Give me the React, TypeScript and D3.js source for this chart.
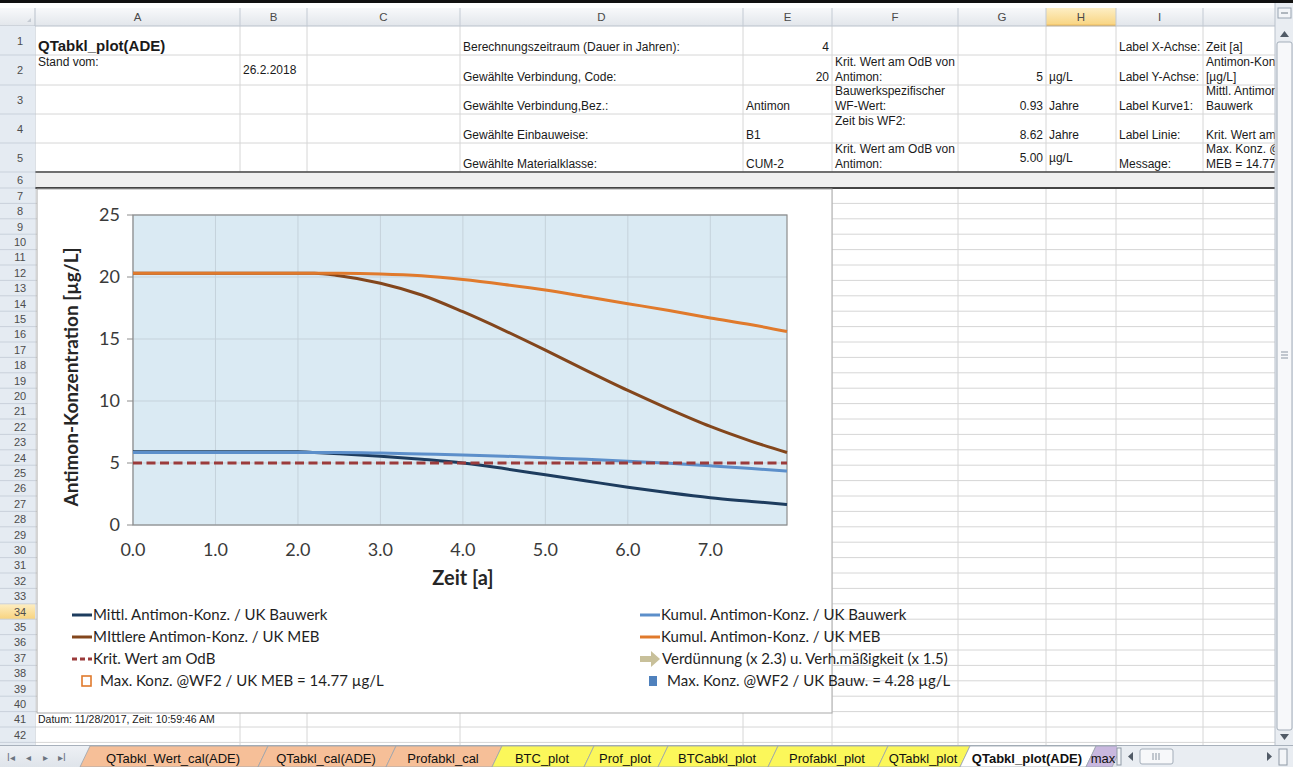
import React from 'react';
import * as d3 from 'd3';

const W = 1293;
const H = 767;

// ---- chart data ----
const years = [0, 0.5, 1, 1.5, 2, 2.2, 2.5, 3, 3.5, 4, 4.5, 5, 5.5, 6, 6.5, 7, 7.5, 7.93];
const mittlBauwerk = [5.9, 5.9, 5.9, 5.9, 5.9, 5.85, 5.75, 5.55, 5.3, 5.0, 4.55, 4.05, 3.55, 3.05, 2.6, 2.2, 1.9, 1.65];
const kumulBauwerk = [5.85, 5.85, 5.85, 5.85, 5.85, 5.85, 5.85, 5.8, 5.72, 5.65, 5.55, 5.42, 5.3, 5.15, 4.98, 4.77, 4.55, 4.35];
const mittlMEB = [20.3, 20.3, 20.3, 20.3, 20.3, 20.3, 20.1, 19.5, 18.55, 17.2, 15.7, 14.1, 12.45, 10.85, 9.35, 7.95, 6.75, 5.85];
const kumulMEB = [20.3, 20.3, 20.3, 20.3, 20.3, 20.3, 20.3, 20.25, 20.1, 19.8, 19.4, 18.95, 18.4, 17.85, 17.3, 16.7, 16.15, 15.6];
const kritWert = 5;
const xMax = 7.93;
const xTicks = [0, 1, 2, 3, 4, 5, 6, 7];
const yTicks = [0, 5, 10, 15, 20, 25];

const seriesNames = [
  'Mittl. Antimon-Konz. / UK Bauwerk',
  'Kumul. Antimon-Konz. / UK Bauwerk',
  'MIttlere Antimon-Konz. / UK MEB',
  'Kumul. Antimon-Konz. / UK MEB',
];
const seriesColors = ['#1d3c5e', '#5c8fca', '#83461c', '#e07a2c'];
const seriesValues = [mittlBauwerk, kumulBauwerk, mittlMEB, kumulMEB];
const kritLabel = 'Krit. Wert am OdB';
const arrowLabel = 'Verdünnung (x 2.3) u. Verh.mäßigkeit (x 1.5)';
const maxMEBLabel = 'Max. Konz. @WF2 / UK MEB = 14.77 µg/L';
const maxBauLabel = 'Max. Konz. @WF2 / UK Bauw. = 4.28 µg/L';

// ---- sheet layout ----
const colNames = ['A', 'B', 'C', 'D', 'E', 'F', 'G', 'H', 'I', 'J'];
const colEdges = [35, 240, 307, 460, 743, 832, 958, 1046, 1116, 1203, 1330];
const topRowEdges = [26, 55, 85, 114, 143, 172, 188];
const ROW_H = 15.4;
const rowTop = (r: number) => (r <= 7 ? topRowEdges[r - 1] : 188 + (r - 7) * ROW_H);
const rowBottom = (r: number) => (r < 7 ? topRowEdges[r] : 188 + (r - 6) * ROW_H);

type Cell = { c: string; r: number; t: string[]; align?: 'left' | 'right'; v?: 'top' | 'bottom' | 'middle'; bold?: boolean; size?: number };
const cells: Cell[] = [
  { c: 'A', r: 1, t: ['QTabkl_plot(ADE)'], bold: true, size: 15 },
  { c: 'A', r: 2, t: ['Stand vom:'], v: 'top' },
  { c: 'B', r: 2, t: ['26.2.2018'], v: 'middle' },
  { c: 'D', r: 1, t: ['Berechnungszeitraum (Dauer in Jahren):'] },
  { c: 'E', r: 1, t: ['4'], align: 'right' },
  { c: 'I', r: 1, t: ['Label X-Achse:'] },
  { c: 'J', r: 1, t: ['Zeit [a]'] },
  { c: 'D', r: 2, t: ['Gewählte Verbindung, Code:'] },
  { c: 'E', r: 2, t: ['20'], align: 'right' },
  { c: 'F', r: 2, t: ['Krit. Wert am OdB von', 'Antimon:'] },
  { c: 'G', r: 2, t: ['5'], align: 'right' },
  { c: 'H', r: 2, t: ['µg/L'] },
  { c: 'I', r: 2, t: ['Label Y-Achse:'] },
  { c: 'J', r: 2, t: ['Antimon-Konz', '[µg/L]'] },
  { c: 'D', r: 3, t: ['Gewählte Verbindung,Bez.:'] },
  { c: 'E', r: 3, t: ['Antimon'] },
  { c: 'F', r: 3, t: ['Bauwerkspezifischer', 'WF-Wert:'] },
  { c: 'G', r: 3, t: ['0.93'], align: 'right' },
  { c: 'H', r: 3, t: ['Jahre'] },
  { c: 'I', r: 3, t: ['Label Kurve1:'] },
  { c: 'J', r: 3, t: ['Mittl. Antimon-', 'Bauwerk'] },
  { c: 'D', r: 4, t: ['Gewählte Einbauweise:'] },
  { c: 'E', r: 4, t: ['B1'] },
  { c: 'F', r: 4, t: ['Zeit bis WF2:'], v: 'top' },
  { c: 'G', r: 4, t: ['8.62'], align: 'right' },
  { c: 'H', r: 4, t: ['Jahre'] },
  { c: 'I', r: 4, t: ['Label Linie:'] },
  { c: 'J', r: 4, t: ['Krit. Wert am'] },
  { c: 'D', r: 5, t: ['Gewählte Materialklasse:'] },
  { c: 'E', r: 5, t: ['CUM-2'] },
  { c: 'F', r: 5, t: ['Krit. Wert am OdB von', 'Antimon:'] },
  { c: 'G', r: 5, t: ['5.00'], align: 'right', v: 'middle' },
  { c: 'H', r: 5, t: ['µg/L'], v: 'middle' },
  { c: 'I', r: 5, t: ['Message:'] },
  { c: 'J', r: 5, t: ['Max. Konz. @', 'MEB = 14.77'] },
  { c: 'A', r: 41, t: ['Datum: 11/28/2017, Zeit: 10:59:46 AM'], size: 10.5 },
];

const tabNames = ['QTabkl_Wert_cal(ADE)', 'QTabkl_cal(ADE)', 'Profabkl_cal', 'BTC_plot', 'Prof_plot', 'BTCabkl_plot', 'Profabkl_plot', 'QTabkl_plot', 'QTabkl_plot(ADE)', 'max'];
const tabColors = ['#f6bf98', '#f6bf98', '#f6bf98', '#fbf75a', '#fbf75a', '#fbf75a', '#fbf75a', '#fbf75a', '#ffffff', '#c9b8df'];
const tabEdges = [80, 258, 386, 492, 584, 658, 768, 878, 960, 1086, 1112];

const SHEET_FONT = '"Liberation Sans", Arial, sans-serif';
const CHART_FONT = 'Lato, "Open Sans", sans-serif';

function CellText({ cell }: { cell: Cell }) {
  const ci = colNames.indexOf(cell.c);
  const x0 = colEdges[ci];
  const x1 = colEdges[ci + 1];
  const top = rowTop(cell.r);
  const bot = rowBottom(cell.r);
  const lh = 15;
  const n = cell.t.length;
  const v = cell.v || 'bottom';
  let first = bot - 4 - (n - 1) * lh;
  if (v === 'top') first = top + 11;
  if (v === 'middle') first = (top + bot) / 2 + 4 - ((n - 1) * lh) / 2;
  const right = cell.align === 'right';
  return (
    <text
      x={right ? x1 - 3 : x0 + 3}
      y={first}
      textAnchor={right ? 'end' : 'start'}
      fontFamily={SHEET_FONT}
      fontSize={cell.size || 12}
      fontWeight={cell.bold ? 'bold' : 'normal'}
      fill="#1a1a1a"
    >
      {cell.t.map((s, i) => (
        <tspan key={i} x={right ? x1 - 3 : x0 + 3} dy={i === 0 ? 0 : lh}>{s}</tspan>
      ))}
    </text>
  );
}

export default function App() {
  const x = d3.scaleLinear().domain([0, xMax]).range([133, 787]);
  const y = d3.scaleLinear().domain([0, 25]).range([525, 215]);
  const line = d3.line<number>().x((_, i) => x(years[i])).y(d => y(d)).curve(d3.curveMonotoneX);

  const rows: number[] = d3.range(1, 43);
  const gridCol = '#d6d6d6';

  // legend geometry
  const legRows = [615, 637, 659, 681];
  const legC1 = 72;
  const legC2 = 640;

  return (
    <svg width={W} height={H} style={{ position: 'absolute', left: 0, top: 0, background: '#fff' }}>
      <defs>
        <linearGradient id="colHdr" x1="0" y1="0" x2="0" y2="1">
          <stop offset="0" stopColor="#f8f9fb" />
          <stop offset="1" stopColor="#e2e6eb" />
        </linearGradient>
        <linearGradient id="hiHdr" x1="0" y1="0" x2="0" y2="1">
          <stop offset="0" stopColor="#fdeec4" />
          <stop offset="1" stopColor="#f8d37e" />
        </linearGradient>
        <linearGradient id="tabBar" x1="0" y1="0" x2="0" y2="1">
          <stop offset="0" stopColor="#eef1f5" />
          <stop offset="1" stopColor="#dfe4ea" />
        </linearGradient>
        <clipPath id="sheetClip">
          <rect x={0} y={0} width={1275} height={H} />
        </clipPath>
      </defs>

      {/* ribbon edge */}
      <rect x={0} y={0} width={W} height={3} fill="#111" />

      <g clipPath="url(#sheetClip)">
        {/* cell grid */}
        {rows.map(r => (
          <line key={'h' + r} x1={35} x2={1275} y1={rowBottom(r)} y2={rowBottom(r)} stroke={gridCol} strokeWidth={1} />
        ))}
        {colEdges.slice(1).map((cx, i) => (
          <line key={'v' + i} x1={cx} x2={cx} y1={26} y2={745} stroke={gridCol} strokeWidth={1} />
        ))}
        {/* row 6 band */}
        <rect x={35} y={172} width={1240} height={16} fill="#efefef" />
        <line x1={35} x2={1275} y1={172} y2={172} stroke="#444" strokeWidth={1.6} />
        <line x1={35} x2={1275} y1={188} y2={188} stroke="#444" strokeWidth={2} />

        {/* column headers */}
        <rect x={0} y={8} width={1275} height={18} fill="url(#colHdr)" />
        <rect x={colEdges[7]} y={8} width={colEdges[8] - colEdges[7]} height={18} fill="url(#hiHdr)" />
        <line x1={colEdges[7]} x2={colEdges[8]} y1={25.5} y2={25.5} stroke="#e6a93c" strokeWidth={1.5} />
        <line x1={0} x2={1275} y1={26} y2={26} stroke="#b9c1cb" />
        <line x1={35} x2={35} y1={8} y2={745} stroke="#b9c1cb" />
        {colEdges.slice(0, -1).map((cx, i) => (
          <g key={'ch' + i}>
            <line x1={colEdges[i + 1]} x2={colEdges[i + 1]} y1={8} y2={26} stroke="#c3cad3" />
            <text x={(cx + colEdges[i + 1]) / 2} y={21} textAnchor="middle" fontFamily={SHEET_FONT} fontSize={11.5} fill="#4a4a4a">
              {i < 9 ? colNames[i] : ''}
            </text>
          </g>
        ))}
        <path d="M27,22 L31,18 L31,22 Z" fill="#c5cbd3" />

        {/* row headers */}
        <rect x={0} y={26} width={35} height={720} fill="#e5ebf2" />
        <rect x={0} y={rowTop(34)} width={35} height={ROW_H} fill="url(#hiHdr)" />
        {rows.map(r => (
          <g key={'rh' + r}>
            <line x1={0} x2={35} y1={rowBottom(r)} y2={rowBottom(r)} stroke="#c9d1db" />
            <text x={20} y={(rowTop(r) + rowBottom(r)) / 2 + 4} textAnchor="middle" fontFamily={SHEET_FONT} fontSize={11} fill="#4d4d4d">
              {r}
            </text>
          </g>
        ))}

        {/* cell texts */}
        {cells.map((c, i) => <CellText key={i} cell={c} />)}
      </g>

      {/* chart object */}
      <rect x={37} y={189} width={795} height={524} fill="#fff" stroke="#a9a9a9" strokeWidth={1} />

      {/* plot area */}
      <rect x={x(0)} y={y(25)} width={x(xMax) - x(0)} height={y(0) - y(25)} fill="#daeaf3" />
      {yTicks.map(t => (
        <line key={'gy' + t} x1={x(0)} x2={x(xMax)} y1={y(t)} y2={y(t)} stroke="#c5d2db" strokeWidth={1} />
      ))}
      {xTicks.map(t => (
        <line key={'gx' + t} x1={x(t)} x2={x(t)} y1={y(25)} y2={y(0)} stroke="#c5d2db" strokeWidth={1} />
      ))}
      <rect x={x(0)} y={y(25)} width={x(xMax) - x(0)} height={y(0) - y(25)} fill="none" stroke="#8c8c8c" strokeWidth={1.2} />
      {yTicks.map(t => (
        <line key={'ty' + t} x1={x(0) - 6} x2={x(0)} y1={y(t)} y2={y(t)} stroke="#8c8c8c" />
      ))}

      {/* series */}
      {seriesValues.map((vals, i) => (
        <path key={'s' + i} d={line(vals) || ''} fill="none" stroke={seriesColors[i]} strokeWidth={3} strokeLinejoin="round" />
      ))}
      <line x1={x(0)} x2={x(xMax)} y1={y(kritWert)} y2={y(kritWert)} stroke="#9b3b3b" strokeWidth={3} strokeDasharray="9,4.5" />

      {/* axis labels */}
      {yTicks.map(t => (
        <text key={'ly' + t} x={x(0) - 13} y={y(t) + 6} textAnchor="end" fontFamily={CHART_FONT} fontSize={18} fill="#3a3a3a">
          {t}
        </text>
      ))}
      {xTicks.map(t => (
        <text key={'lx' + t} x={x(t)} y={556} textAnchor="middle" fontFamily={CHART_FONT} fontSize={18} fill="#3a3a3a">
          {d3.format('.1f')(t)}
        </text>
      ))}
      <text x={463} y={585} textAnchor="middle" fontFamily={CHART_FONT} fontSize={20} fontWeight="bold" fill="#262626">
        Zeit [a]
      </text>
      <text transform="translate(78,377) rotate(-90)" textAnchor="middle" fontFamily={CHART_FONT} fontSize={19} fontWeight="bold" fill="#262626">
        Antimon-Konzentration [µg/L]
      </text>

      {/* legend */}
      <g fontFamily={CHART_FONT} fontSize={15} fill="#1f1f1f">
        {[0, 2].map((si, k) => (
          <g key={'l1' + si}>
            <line x1={legC1} x2={legC1 + 20} y1={legRows[k]} y2={legRows[k]} stroke={seriesColors[si]} strokeWidth={3} />
            <text x={legC1 + 21} y={legRows[k] + 5}>{seriesNames[si]}</text>
          </g>
        ))}
        {[1, 3].map((si, k) => (
          <g key={'l2' + si}>
            <line x1={legC2} x2={legC2 + 20} y1={legRows[k]} y2={legRows[k]} stroke={seriesColors[si]} strokeWidth={3} />
            <text x={legC2 + 21} y={legRows[k] + 5}>{seriesNames[si]}</text>
          </g>
        ))}
        <line x1={legC1} x2={legC1 + 20} y1={legRows[2]} y2={legRows[2]} stroke="#9b3b3b" strokeWidth={3} strokeDasharray="5,3" />
        <text x={legC1 + 21} y={legRows[2] + 5}>{kritLabel}</text>
        <path
          d={`M${legC2},${legRows[2] - 3} L${legC2 + 11},${legRows[2] - 3} L${legC2 + 11},${legRows[2] - 8} L${legC2 + 20},${legRows[2]} L${legC2 + 11},${legRows[2] + 8} L${legC2 + 11},${legRows[2] + 3} L${legC2},${legRows[2] + 3} Z`}
          fill="#c8c09a"
        />
        <text x={legC2 + 22} y={legRows[2] + 5}>{arrowLabel}</text>
        <rect x={legC1 + 10} y={legRows[3] - 5} width={9} height={10} fill="#fff" stroke="#e07a2c" strokeWidth={1.6} />
        <text x={legC1 + 28} y={legRows[3] + 5}>{maxMEBLabel}</text>
        <rect x={legC2 + 9} y={legRows[3] - 5} width={8} height={10} fill="#4f81bd" />
        <text x={legC2 + 27} y={legRows[3] + 5}>{maxBauLabel}</text>
      </g>

      {/* vertical scrollbar */}
      <rect x={1275} y={3} width={18} height={742} fill="#e9edf2" />
      <line x1={1275} x2={1275} y1={3} y2={745} stroke="#b9c1cb" />
      <rect x={1278} y={8} width={13} height={10} fill="#f3f5f8" stroke="#9aa5b2" />
      <line x1={1281} x2={1288} y1={13} y2={13} stroke="#6d7884" />
      <path d="M1280,37 L1284.5,31 L1289,37 Z" fill="#505a66" />
      <rect x={1277} y={42} width={15} height={688} rx={2} fill="#f7f8fa" stroke="#a3adb9" />
      <g stroke="#8a95a2">
        <line x1={1281} x2={1288} y1={352} y2={352} />
        <line x1={1281} x2={1288} y1={355} y2={355} />
        <line x1={1281} x2={1288} y1={358} y2={358} />
      </g>
      <path d="M1280,734 L1289,734 L1284.5,740 Z" fill="#505a66" />

      {/* sheet tab bar */}
      <rect x={0} y={745} width={W} height={22} fill="url(#tabBar)" />
      <line x1={0} x2={W} y1={745.5} y2={745.5} stroke="#a8b1bc" />
      <g fill="#6b7480" fontFamily={SHEET_FONT} fontSize={10}>
        <text x={7} y={761}>I◂</text>
        <text x={26} y={761}>◂</text>
        <text x={43} y={761}>▸</text>
        <text x={58} y={761}>▸I</text>
      </g>
      {tabNames.map((name, i) => {
        const x0 = tabEdges[i];
        const x1 = tabEdges[i + 1];
        const active = i === 8;
        return (
          <g key={'tab' + i}>
            <path d={`M${x0},767 L${x0 + 10},746 L${x1 + 10},746 L${x1},767 Z`} fill={tabColors[i]} stroke="#9aa3ad" strokeWidth={0.8} />
            <text
              x={(x0 + x1) / 2 + 4}
              y={763}
              textAnchor="middle"
              fontFamily={SHEET_FONT}
              fontSize={13}
              fontWeight={active ? 'bold' : 'normal'}
              fill="#111"
            >
              {name}
            </text>
          </g>
        );
      })}
      {/* horizontal scrollbar */}
      <rect x={1117} y={746} width={176} height={21} fill="#e9edf2" />
      <rect x={1117} y={748} width={4} height={17} fill="#f3f5f8" stroke="#8f9aa6" />
      <path d="M1128,756.5 L1133,752 L1133,761 Z" fill="#505a66" />
      <rect x={1140} y={749} width={33} height={15} rx={2} fill="#f7f8fa" stroke="#a3adb9" />
      <g stroke="#8a95a2">
        <line x1={1153} x2={1153} y1={753} y2={760} />
        <line x1={1156} x2={1156} y1={753} y2={760} />
        <line x1={1159} x2={1159} y1={753} y2={760} />
      </g>
      <path d="M1267,752 L1272,756.5 L1267,761 Z" fill="#505a66" />
      <rect x={1279} y={749} width={8} height={16} fill="#f3f5f8" stroke="#8f9aa6" />
    </svg>
  );
}
